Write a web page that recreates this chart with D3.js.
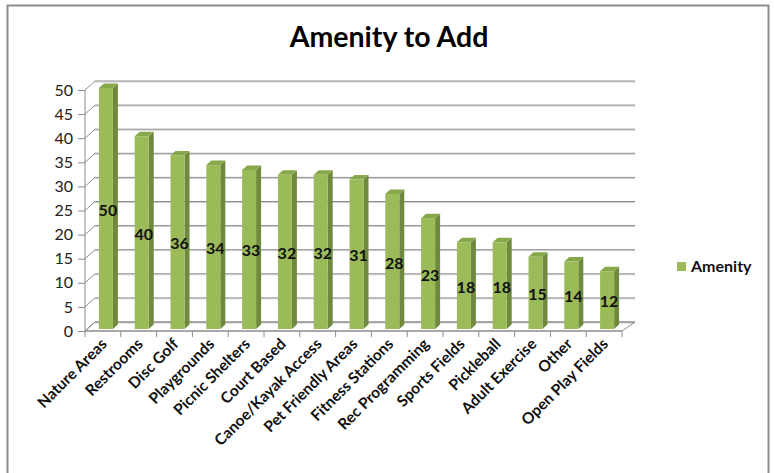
<!DOCTYPE html>
<html>
<head>
<meta charset="utf-8">
<script src="https://cdn.jsdelivr.net/npm/d3@7"></script>
<style>
  body { margin: 0; background: #fff; }
  text { font-family: Lato, "Open Sans", sans-serif; }
</style>
</head>
<body>
<div id="chart"></div>
<script>
"use strict";

// chart data
var categories = ["Nature Areas", "Restrooms", "Disc Golf", "Playgrounds", "Picnic Shelters",
  "Court Based", "Canoe/Kayak Access", "Pet Friendly Areas", "Fitness Stations",
  "Rec Programming", "Sports Fields", "Pickleball", "Adult Exercise", "Other", "Open Play Fields"];
var amenity = [50, 40, 36, 34, 33, 32, 32, 31, 28, 23, 18, 18, 15, 14, 12];
var yTicks = [0, 5, 10, 15, 20, 25, 30, 35, 40, 45, 50];
var seriesName = "Amenity";
var chartTitle = "Amenity to Add";

var width = 774, height = 473;

// front plane of the 3d box
var x0 = 85, x1 = 622, yTop = 90, yBottom = 331;
// depth offset of the back wall
var depthX = 10, depthY = -9;

var svg = d3.select("#chart").append("svg").attr("width", width).attr("height", height);

// outer frame
svg.append("rect").attr("x", 7.5).attr("y", 5.5).attr("width", 761).attr("height", 480)
  .style("fill", "#fff").style("stroke", "#8c8c8c").style("stroke-width", 2);

// title
svg.append("text").attr("x", 389).attr("y", 47).attr("text-anchor", "middle")
  .style("font-size", "28.5px").style("font-weight", "bold").text(chartTitle);

var xScale = d3.scaleBand().domain(categories).range([x0, x1]);
var yScale = d3.scaleLinear().domain([0, 50]).range([yBottom, yTop]);

var grid = svg.append("g");
// back wall gridlines and side wall diagonals
yTicks.forEach(function (t) {
  var y = yScale(t);
  grid.append("line").attr("x1", x0 + depthX).attr("x2", x1 + depthX + 3)
    .attr("y1", y + depthY + 1).attr("y2", y + depthY + 1)
    .style("stroke", "#d0d0d0").style("stroke-width", 1);
  grid.append("line").attr("x1", x0 + depthX).attr("x2", x1 + depthX + 3)
    .attr("y1", y + depthY).attr("y2", y + depthY)
    .style("stroke", "#8c8c8c").style("stroke-width", 1);
  grid.append("line").attr("x1", x0).attr("x2", x0 + depthX)
    .attr("y1", y).attr("y2", y + depthY)
    .style("stroke", "#8c8c8c").style("stroke-width", 1);
});

// floor
grid.append("path")
  .attr("d", "M" + x0 + "," + yBottom + "L" + (x0 + depthX) + "," + (yBottom + depthY) +
    "L" + (x1 + depthX + 3) + "," + (yBottom + depthY) + "L" + x1 + "," + yBottom + "Z")
  .style("fill", "none").style("stroke", "#8c8c8c").style("stroke-width", 1);

// y axis
var yAxis = svg.append("g").attr("transform", "translate(" + x0 + ",0)")
  .call(d3.axisLeft(yScale).tickValues(yTicks).tickSize(7).tickPadding(5));
yAxis.select(".domain").attr("d", "M0," + yTop + "V" + yBottom).style("stroke", "#8c8c8c");
yAxis.selectAll(".tick line").style("stroke", "#8c8c8c");
yAxis.selectAll(".tick text").style("font-size", "16px").style("fill", "#222")
  .style("font-family", "Lato, sans-serif");

// x axis ticks
var xAxis = svg.append("g").attr("transform", "translate(0," + yBottom + ")");
xAxis.append("line").attr("x1", x0).attr("x2", x1).attr("y1", 0).attr("y2", 0)
  .style("stroke", "#8c8c8c");
d3.range(categories.length + 1).forEach(function (i) {
  var x = x0 + i * xScale.step();
  xAxis.append("line").attr("x1", x).attr("x2", x).attr("y1", 0).attr("y2", 6)
    .style("stroke", "#8c8c8c");
});
xAxis.selectAll("text.cat").data(categories).enter().append("text")
  .attr("class", "cat")
  .attr("transform", function (d) {
    return "translate(" + (xScale(d) + xScale.bandwidth() / 2 + 5) + ",14) rotate(-45)";
  })
  .attr("text-anchor", "end")
  .style("font-size", "15.5px").style("font-weight", "bold").style("fill", "#111")
  .text(function (d) { return d; });

// bars, drawn as little boxes
var faceW = 14, sideX = 5, sideY = -4.5, shiftX = 3, shiftY = -2;
var bars = svg.append("g").selectAll("g").data(amenity).enter().append("g");
bars.each(function (v, i) {
  var g = d3.select(this);
  var left = xScale(categories[i]) + xScale.bandwidth() / 2 - faceW / 2 + shiftX;
  var right = left + faceW;
  var top = yScale(v) + shiftY, bottom = yScale(0) + shiftY;
  // side
  g.append("path")
    .attr("d", "M" + right + "," + top + "L" + (right + sideX) + "," + (top + sideY) +
      "L" + (right + sideX) + "," + (bottom + sideY) + "L" + right + "," + bottom + "Z")
    .style("fill", "#6f8a3c");
  // top
  g.append("path")
    .attr("d", "M" + left + "," + top + "L" + (left + sideX) + "," + (top + sideY) +
      "L" + (right + sideX) + "," + (top + sideY) + "L" + right + "," + top + "Z")
    .style("fill", "#87a84a");
  // front
  g.append("rect").attr("x", left).attr("y", top).attr("width", faceW).attr("height", bottom - top)
    .style("fill", "#9bbb59");
  // value label
  g.append("text").attr("x", left + faceW / 2 + 2).attr("y", yScale(v / 2) + 5)
    .attr("text-anchor", "middle")
    .style("font-size", "16px").style("font-weight", "bold").style("fill", "#111")
    .text(v);
});

// legend
var legend = svg.append("g").attr("transform", "translate(677,262)");
legend.append("rect").attr("width", 9).attr("height", 9).style("fill", "#9bbb59");
legend.append("text").attr("x", 14).attr("y", 10)
  .style("font-size", "16px").style("font-weight", "bold").style("fill", "#111")
  .text(seriesName);
</script>
</body>
</html>
